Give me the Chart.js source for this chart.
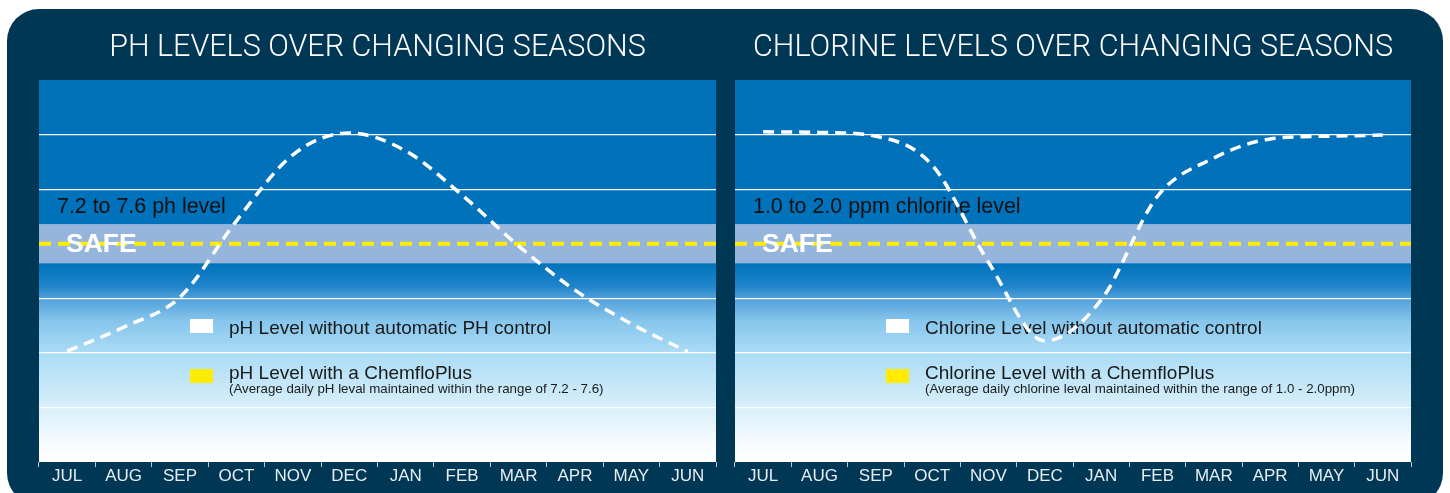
<!DOCTYPE html>
<html>
<head>
<meta charset="utf-8">
<script src="https://cdn.jsdelivr.net/npm/chart.js@4.4.1/dist/chart.umd.min.js"></script>
<style>
  html, body { margin: 0; padding: 0; background: #fff; }
  body { width: 1450px; height: 493px; position: relative; overflow: hidden; }
  #frame { position: absolute; left: 7px; top: 9px; width: 1436px; height: 496px; border-radius: 32px; background: #003754; }
  .panel { position: absolute; top: 0; width: 725px; height: 493px; }
  #phWrap { left: 0; }
  #clWrap { left: 725px; }
</style>
</head>
<body>
<div id="frame"></div>
<div class="panel" id="phWrap"><canvas id="ph"></canvas></div>
<div class="panel" id="clWrap"><canvas id="cl"></canvas></div>
<script>
/* values are relative level units (0 = bottom of plot, 7 = top) */
const MONTHS = ["JUL", "AUG", "SEP", "OCT", "NOV", "DEC", "JAN", "FEB", "MAR", "APR", "MAY", "JUN"];
const PH_WITHOUT = [2.03, 2.47, 3.02, 4.42, 5.63, 6.03, 5.70, 4.89, 3.96, 3.15, 2.53, 2.02];
const CL_WITHOUT = [6.05, 6.04, 5.97, 5.44, 3.66, 2.22, 2.97, 4.87, 5.57, 5.92, 5.97, 5.99];
const PH_WITH = 4.0;            // level held by ChemfloPlus
const CL_WITH = 4.0;
const PH_SAFE = [3.64, 4.36];   // safe band
const CL_SAFE = [3.64, 4.36];
const Y_MIN = 0, Y_MAX = 7, Y_STEP = 1;

const FONT = '"Liberation Sans", Arial, Helvetica, sans-serif';

const plotBg = {
  id: "plotBg",
  beforeDraw(chart) {
    const { ctx, chartArea: a } = chart;
    const g = ctx.createLinearGradient(0, a.top, 0, a.bottom);
    g.addColorStop(0, "#0070b8");
    g.addColorStop(0.48, "#0073bc");
    g.addColorStop(0.54, "#1f84c9");
    g.addColorStop(0.57, "#4f9fda");
    g.addColorStop(0.63, "#86c5ec");
    g.addColorStop(0.71, "#a9dbf5");
    g.addColorStop(0.85, "#d6eefa");
    g.addColorStop(0.95, "#f7fcff");
    g.addColorStop(1, "#ffffff");
    ctx.save();
    ctx.fillStyle = g;
    ctx.fillRect(a.left, a.top, a.width, a.height);
    ctx.restore();
  }
};

const safeBand = {
  id: "safeBand",
  beforeDatasetsDraw(chart, args, o) {
    const { ctx, chartArea: a, scales: { y } } = chart;
    const top = y.getPixelForValue(o.band[1]), bot = y.getPixelForValue(o.band[0]);
    const ly = y.getPixelForValue(o.level);
    ctx.save();
    ctx.fillStyle = "#95b5dd";
    ctx.fillRect(a.left, top, a.width, bot - top);

    ctx.strokeStyle = "#ffec00"; ctx.lineWidth = 4; ctx.setLineDash([12, 7]);
    ctx.beginPath(); ctx.moveTo(a.left, ly); ctx.lineTo(a.right, ly); ctx.stroke();
    ctx.setLineDash([]);

    ctx.fillStyle = "#fff"; ctx.font = "bold 26.5px " + FONT; ctx.textBaseline = "middle";
    ctx.fillText("SAFE", a.left + 27, ly + 1);

    ctx.fillStyle = "#111"; ctx.font = "21.4px " + FONT; ctx.textBaseline = "alphabetic";
    ctx.fillText(o.rangeText, a.left + 18, top - 11);

    // legend
    const lx = a.left + 151, tx = a.left + 190;
    ctx.fillStyle = "#fff"; ctx.fillRect(lx, a.top + 239, 23, 14);
    ctx.fillStyle = "#ffec00"; ctx.fillRect(lx, a.top + 289, 23, 14);
    ctx.fillStyle = "#1a1a1a";
    ctx.font = "19px " + FONT;
    ctx.fillText(o.legend[0], tx, a.top + 254);
    ctx.fillText(o.legend[1], tx, a.top + 299);
    ctx.font = "13.3px " + FONT;
    ctx.fillText(o.legend[2], tx, a.top + 313);
    ctx.restore();
  }
};

function makePanel(id, title, values, band, level, rangeText, legend, pad) {
  return new Chart(document.getElementById(id), {
    type: "line",
    data: {
      labels: MONTHS,
      datasets: [{
        data: values,
        borderColor: "#ffffff", borderWidth: 3.5, borderDash: [11, 7],
        pointRadius: 0, fill: false, cubicInterpolationMode: "monotone"
      }]
    },
    options: {
      responsive: true, maintainAspectRatio: false, animation: false,
      layout: { padding: { left: pad[0], right: pad[1], top: 0, bottom: 0 } },
      plugins: {
        legend: { display: false }, tooltip: { enabled: false },
        title: {
          display: true, text: title, color: "#ffffff",
          font: { family: "Roboto", weight: 300, size: 30.5, lineHeight: 1.2 },
          padding: { top: 30, bottom: 13.4 }
        },
        safeBand: { band, level, rangeText, legend }
      },
      scales: {
        x: {
          offset: true,
          border: { display: false },
          grid: { offset: true, drawOnChartArea: false, drawTicks: true, tickLength: 5, color: "#b9c6cf" },
          ticks: { color: "#e6edf2", font: { family: FONT, size: 17, lineHeight: 1 }, padding: 1, maxRotation: 0, autoSkip: false },
          afterFit(s) { s.height = 31; }
        },
        y: {
          min: Y_MIN, max: Y_MAX,
          border: { display: false },
          ticks: { display: false, stepSize: Y_STEP },
          grid: {
            drawTicks: false, lineWidth: 1.2,
            color: c => (c.tick.value > Y_MIN && c.tick.value < Y_MAX) ? "#ffffff" : "rgba(0,0,0,0)"
          },
          afterFit(s) { s.width = 0; }
        }
      }
    },
    plugins: [plotBg, safeBand]
  });
}

makePanel("ph", "PH LEVELS OVER CHANGING SEASONS", PH_WITHOUT, PH_SAFE, PH_WITH,
  "7.2 to 7.6 ph level",
  ["pH Level without automatic PH control", "pH Level with a ChemfloPlus",
   "(Average daily pH leval maintained within the range of 7.2 - 7.6)"], [39, 9]);

makePanel("cl", "CHLORINE LEVELS OVER CHANGING SEASONS", CL_WITHOUT, CL_SAFE, CL_WITH,
  "1.0 to 2.0 ppm chlorine level",
  ["Chlorine Level without automatic control", "Chlorine Level with a ChemfloPlus",
   "(Average daily chlorine leval maintained within the range of 1.0 - 2.0ppm)"], [10, 39]);
</script>
</body>
</html>
